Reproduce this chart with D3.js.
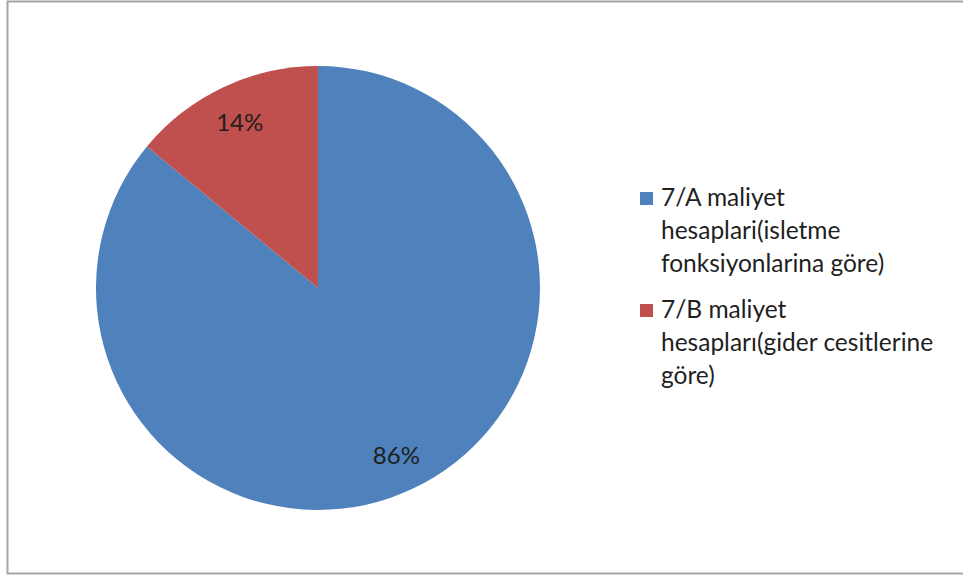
<!DOCTYPE html>
<html>
<head>
<meta charset="utf-8">
<script src="https://cdn.jsdelivr.net/npm/d3@7/dist/d3.min.js"></script>
<style>
  html, body { margin: 0; padding: 0; background: #fff; }
  svg { display: block; }
  text { font-family: Lato, "Open Sans", sans-serif; fill: #1f1f1f; }
</style>
</head>
<body>
<svg id="chart" width="963" height="579"></svg>
<script>
// Share of respondents by cost account plan
const categories = [
  ["7/A maliyet", "hesaplari(isletme", "fonksiyonlarina göre)"],
  ["7/B maliyet", "hesapları(gider cesitlerine", "göre)"]
];
const shares = [86, 14];
const colors = ["#4F81BD", "#C0504D"];

const svg = d3.select("#chart");

// Chart frame
svg.append("path")
  .attr("d", "M 970 1.5 H 7.5 V 573.5 H 970")
  .attr("fill", "none")
  .attr("stroke", "#a6a6a6")
  .attr("stroke-width", 2);

const cx = 318, cy = 288, radius = 222, labelRadius = 184;
const fontSize = 24.5;

const pie = d3.pie().sort(null).value(d => d);
const arcs = pie(shares);
const arc = d3.arc().innerRadius(0).outerRadius(radius);
const labelArc = d3.arc().innerRadius(labelRadius).outerRadius(labelRadius);

const g = svg.append("g").attr("transform", `translate(${cx},${cy})`);

g.selectAll("path.slice")
  .data(arcs)
  .join("path")
  .attr("class", "slice")
  .attr("d", arc)
  .attr("fill", (d, i) => colors[i]);

g.selectAll("text.pct")
  .data(arcs)
  .join("text")
  .attr("class", "pct")
  .attr("transform", d => `translate(${labelArc.centroid(d)})`)
  .attr("text-anchor", "middle")
  .attr("dominant-baseline", "central")
  .attr("font-size", 24)
  .text(d => d3.format(".0%")(d.value / 100));

// Legend
const legendX = 640, firstBaselines = [206, 318], lineH = 33, box = 13;
const legend = svg.append("g");
categories.forEach((lines, i) => {
  const b = firstBaselines[i];
  legend.append("rect")
    .attr("x", legendX).attr("y", b - box - 1)
    .attr("width", box).attr("height", box)
    .attr("fill", colors[i]);
  const t = legend.append("text")
    .attr("x", legendX + 21)
    .attr("y", b)
    .attr("font-size", fontSize);
  lines.forEach((line, j) => {
    t.append("tspan")
      .attr("x", legendX + 21)
      .attr("dy", j === 0 ? 0 : lineH)
      .text(line);
  });
});
</script>
</body>
</html>
